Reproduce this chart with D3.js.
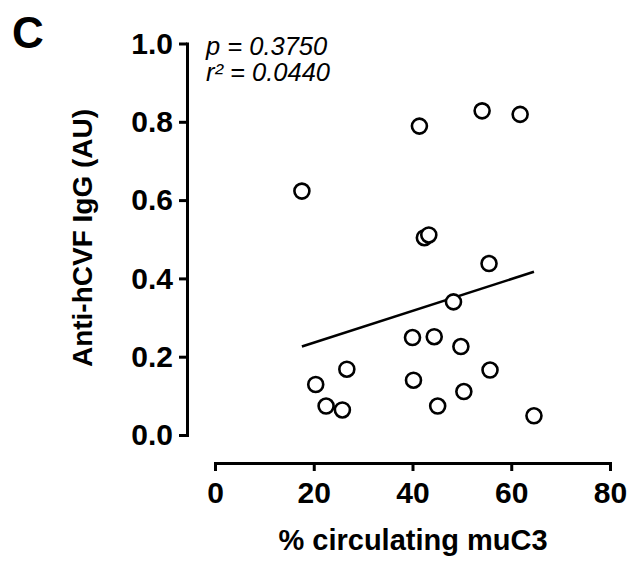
<!DOCTYPE html>
<html>
<head>
<meta charset="utf-8">
<script src="https://cdn.jsdelivr.net/npm/d3@7"></script>
<style>
  body { margin: 0; background: #fff; }
  svg text { font-family: Arial, "Liberation Sans", Helvetica, sans-serif; fill: #000; }
</style>
</head>
<body>
<div id="chart"></div>
<script>
// % circulating muC3 (x) vs Anti-hCVF IgG (y), one entry per animal
const pctMuC3 = [17.6, 41.4, 54.1, 61.8, 42.4, 43.3, 55.5, 48.3, 40.0, 44.4,
                 49.8, 55.7, 26.7, 20.4, 22.5, 25.8, 40.2, 45.1, 50.4, 64.6];
const antiHcvf = [0.623, 0.789, 0.828, 0.819, 0.504, 0.511, 0.438, 0.340, 0.249, 0.251,
                  0.226, 0.166, 0.168, 0.129, 0.074, 0.064, 0.140, 0.074, 0.111, 0.049];

// linear fit as drawn (endpoints at the data range)
const fitX = [17.6, 64.6];
const fitY = [0.226, 0.417];

const xTicks = [0, 20, 40, 60, 80];
const yTicks = [0, 0.2, 0.4, 0.6, 0.8, 1.0];

const statLines = ['p = 0.3750', 'r\u00B2 = 0.0440'];

const width = 629;
const height = 561;

const svg = d3.select('#chart')
  .append('svg')
  .attr('width', width)
  .attr('height', height);

const xScale = d3.scaleLinear().domain([0, 80]).range([215, 610]);
const yScale = d3.scaleLinear().domain([0, 1]).range([435, 43.5]);

// Y axis
const yAxis = svg.append('g')
  .attr('transform', 'translate(187, 0)')
  .call(d3.axisLeft(yScale)
    .tickValues(yTicks)
    .tickFormat(d3.format('.1f'))
    .tickSize(8)
    .tickSizeOuter(0)
    .tickPadding(6));

// X axis
const xAxis = svg.append('g')
  .attr('transform', 'translate(0, 463)')
  .call(d3.axisBottom(xScale)
    .tickValues(xTicks)
    .tickFormat(d3.format('d'))
    .tickSize(8)
    .tickSizeOuter(0)
    .tickPadding(11));

[xAxis, yAxis].forEach(ax => {
  ax.select('.domain').attr('stroke', '#000').attr('stroke-width', 3).attr('stroke-linecap', 'square');
  ax.selectAll('.tick line').attr('stroke', '#000').attr('stroke-width', 3);
  ax.selectAll('.tick text')
    .style('font-size', '30px')
    .style('font-weight', 'bold')
    .attr('fill', '#000');
});

// regression line
const line = d3.line()
  .x(d => xScale(d[0]))
  .y(d => yScale(d[1]));

svg.append('path')
  .datum(d3.zip(fitX, fitY))
  .attr('fill', 'none')
  .attr('stroke', '#000')
  .attr('stroke-width', 2.5)
  .attr('d', line);

// points
svg.selectAll('circle.pt')
  .data(d3.zip(pctMuC3, antiHcvf))
  .enter()
  .append('circle')
  .attr('class', 'pt')
  .attr('cx', d => xScale(d[0]))
  .attr('cy', d => yScale(d[1]))
  .attr('r', 7.5)
  .attr('fill', '#fff')
  .attr('stroke', '#000')
  .attr('stroke-width', 2.6);

// axis titles
svg.append('text')
  .attr('x', 413)
  .attr('y', 550)
  .attr('text-anchor', 'middle')
  .style('font-size', '29px')
  .style('font-weight', 'bold')
  .text('% circulating muC3');

svg.append('text')
  .attr('transform', 'translate(91.5, 238) rotate(-90)')
  .attr('text-anchor', 'middle')
  .style('font-size', '28px')
  .style('font-weight', 'bold')
  .text('Anti-hCVF IgG (AU)');

// panel letter
svg.append('text')
  .attr('x', 12)
  .attr('y', 48)
  .style('font-size', '44px')
  .style('font-weight', 'bold')
  .text('C');

// stats
svg.selectAll('text.stat')
  .data(statLines)
  .enter()
  .append('text')
  .attr('class', 'stat')
  .attr('x', 206)
  .attr('y', (d, i) => 55 + i * 25.7)
  .style('font-size', '25.5px')
  .style('font-style', 'italic')
  .text(d => d);
</script>
</body>
</html>
